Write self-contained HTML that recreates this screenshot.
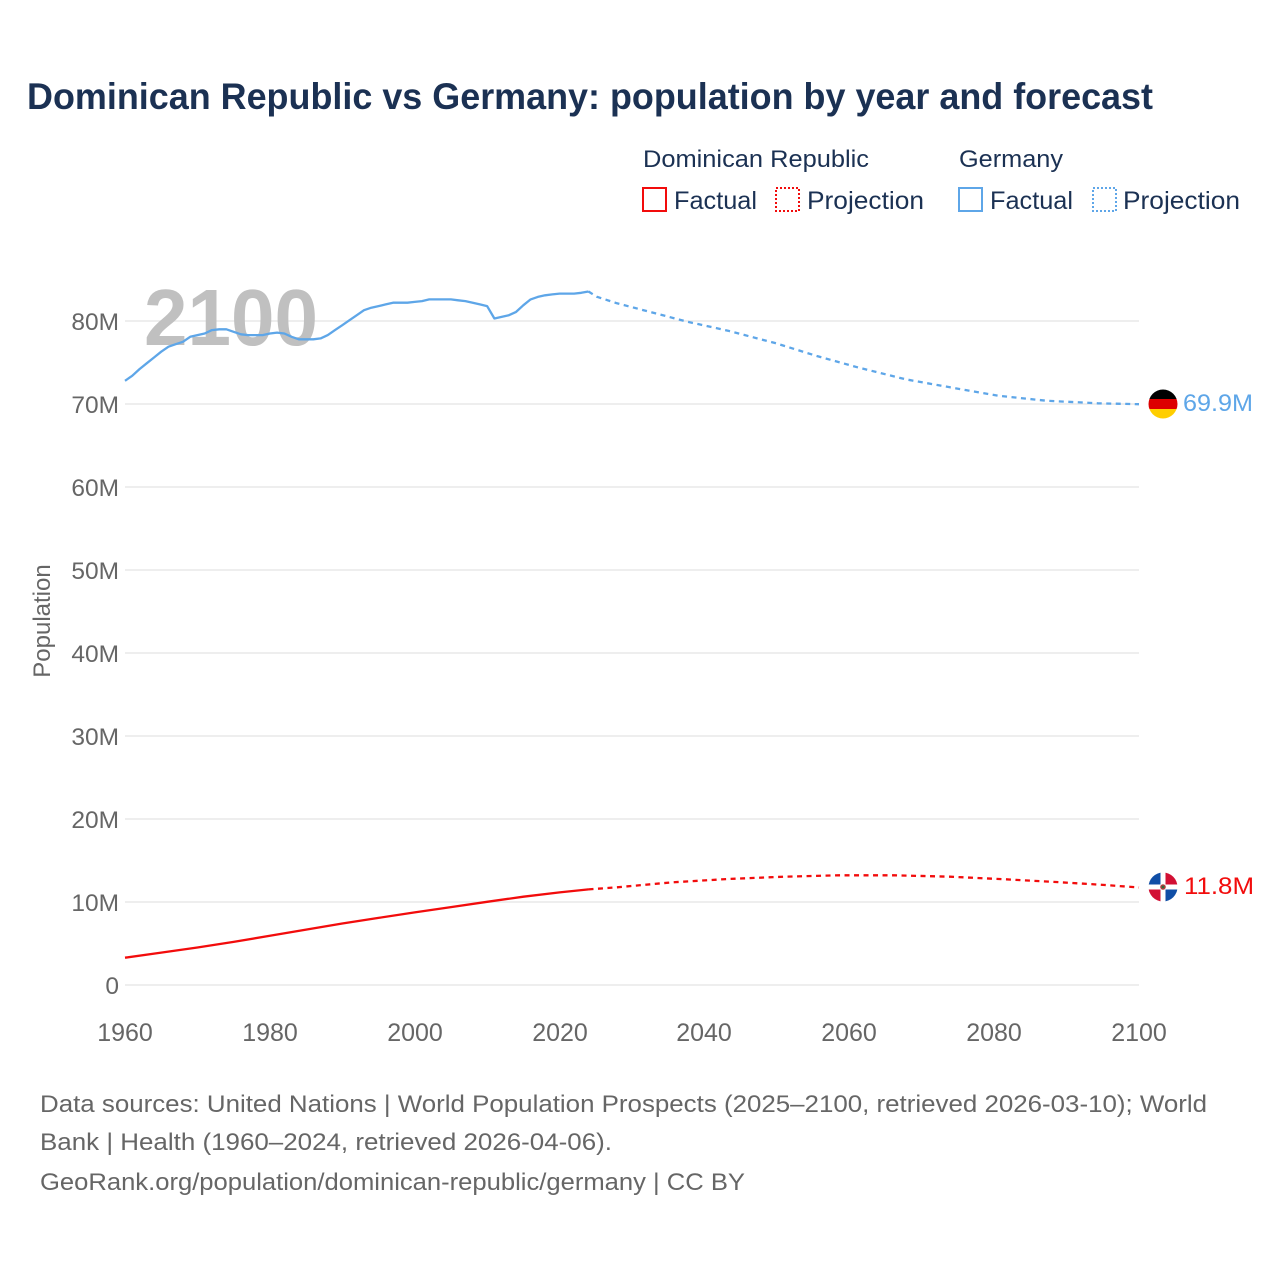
<!DOCTYPE html>
<html>
<head>
<meta charset="utf-8">
<style>
html,body{margin:0;padding:0;background:#fff;}
svg{display:block;}
text{font-family:"Liberation Sans",sans-serif;}
</style>
</head>
<body>
<svg width="1280" height="1280" viewBox="0 0 1280 1280" xmlns="http://www.w3.org/2000/svg">
<rect width="1280" height="1280" fill="#fff"/>
<!-- Title -->
<text x="27" y="109" font-size="37" font-weight="bold" fill="#1b3153" textLength="1126" lengthAdjust="spacingAndGlyphs">Dominican Republic vs Germany: population by year and forecast</text>

<!-- Legend -->
<text x="643" y="167" font-size="24" fill="#1b3153" textLength="226" lengthAdjust="spacingAndGlyphs">Dominican Republic</text>
<text x="959" y="167" font-size="24" fill="#1b3153" textLength="104" lengthAdjust="spacingAndGlyphs">Germany</text>
<rect x="643" y="188" width="23" height="23" fill="none" stroke="#f20c0c" stroke-width="2"/>
<text x="674" y="209" font-size="25" fill="#1b3153" textLength="83" lengthAdjust="spacingAndGlyphs">Factual</text>
<rect x="776" y="188" width="23" height="23" fill="none" stroke="#f20c0c" stroke-width="2" stroke-dasharray="2,2"/>
<text x="807" y="209" font-size="25" fill="#1b3153" textLength="117" lengthAdjust="spacingAndGlyphs">Projection</text>
<rect x="959" y="188" width="23" height="23" fill="none" stroke="#5ea6e8" stroke-width="2"/>
<text x="990" y="209" font-size="25" fill="#1b3153" textLength="83" lengthAdjust="spacingAndGlyphs">Factual</text>
<rect x="1093" y="188" width="23" height="23" fill="none" stroke="#5ea6e8" stroke-width="2" stroke-dasharray="2,2"/>
<text x="1123" y="209" font-size="25" fill="#1b3153" textLength="117" lengthAdjust="spacingAndGlyphs">Projection</text>

<!-- Gridlines -->
<g stroke="#e8e8e8" stroke-width="1.5">
<line x1="125" y1="985" x2="1139" y2="985"/>
<line x1="125" y1="902" x2="1139" y2="902"/>
<line x1="125" y1="819" x2="1139" y2="819"/>
<line x1="125" y1="736" x2="1139" y2="736"/>
<line x1="125" y1="653" x2="1139" y2="653"/>
<line x1="125" y1="570" x2="1139" y2="570"/>
<line x1="125" y1="487" x2="1139" y2="487"/>
<line x1="125" y1="404" x2="1139" y2="404"/>
<line x1="125" y1="321" x2="1139" y2="321"/>
</g>

<!-- Y tick labels -->
<g font-size="24.5" fill="#666" text-anchor="end">
<text x="119" y="994">0</text>
<text x="119" y="911">10M</text>
<text x="119" y="828">20M</text>
<text x="119" y="745">30M</text>
<text x="119" y="662">40M</text>
<text x="119" y="579">50M</text>
<text x="119" y="496">60M</text>
<text x="119" y="413">70M</text>
<text x="119" y="330">80M</text>
</g>
<text transform="translate(50,621) rotate(-90)" font-size="24" fill="#666" text-anchor="middle">Population</text>

<!-- X tick labels -->
<g font-size="25" fill="#666" text-anchor="middle">
<text x="125" y="1041">1960</text>
<text x="270" y="1041">1980</text>
<text x="415" y="1041">2000</text>
<text x="560" y="1041">2020</text>
<text x="704" y="1041">2040</text>
<text x="849" y="1041">2060</text>
<text x="994" y="1041">2080</text>
<text x="1139" y="1041">2100</text>
</g>

<!-- Watermark year -->
<text x="144" y="345" font-size="80" font-weight="bold" fill="#bdbdbd" fill-opacity="0.95" textLength="174" lengthAdjust="spacingAndGlyphs">2100</text>

<!-- Germany factual -->
<polyline fill="none" stroke="#5ea6e8" stroke-width="2.3" stroke-linejoin="round" points="125,380.8 132.2,375.8 139.5,369.1 146.7,363.3 154,357.5 161.2,351.7 168.5,346.7 175.7,344.2 182.9,341.8 190.2,336.8 197.4,335.1 204.7,333.5 211.9,330.1 219.2,329.3 226.4,329.3 233.6,331.8 240.9,334.3 248.1,335.1 255.4,335.1 262.6,335.1 269.9,333.5 277.1,332.6 284.3,333.5 291.6,336.8 298.8,339.3 306.1,339.3 313.3,339.3 320.6,338.4 327.8,335.1 335,330.1 342.3,325.2 349.5,320.2 356.8,315.2 364,310.2 371.3,307.7 378.5,306.1 385.7,304.4 393,302.7 400.2,302.7 407.5,302.7 414.7,301.9 422,301.1 429.2,299.4 436.4,299.4 443.7,299.4 450.9,299.4 458.2,300.3 465.4,301.1 472.7,302.7 479.9,304.4 487.1,306.1 494.4,318.5 501.6,316.9 508.9,315.2 516.1,311.9 523.4,305.2 530.6,299.4 537.8,296.9 545.1,295.3 552.3,294.4 559.6,293.6 566.8,293.6 574.1,293.6 581.3,292.8 588.5,291.5"/>
<!-- Germany projection -->
<polyline fill="none" stroke="#5ea6e8" stroke-width="2.3" stroke-dasharray="5,4.5" stroke-linejoin="round" points="588.5,291.5 596.6,296.7 617,303.3 646.6,311 687.3,321.7 728,330.7 776,343.3 816.8,356 857.5,367.3 905.6,379.3 950,387.3 998,395.7 1046,400.7 1098,403.3 1139,404.2"/>

<!-- Dominican Republic factual -->
<polyline fill="none" stroke="#f20c0c" stroke-width="2.3" stroke-linejoin="round" points="125,957.7 161.2,952.6 197.4,947.5 233.6,941.9 269.9,935.8 306.1,929.6 342.3,923.5 378.5,917.9 414.7,912.4 450.9,907.1 487.1,901.8 523.4,896.7 559.6,892.4 588.5,889.4"/>
<!-- Dominican Republic projection -->
<polyline fill="none" stroke="#f20c0c" stroke-width="2.3" stroke-dasharray="5,4.5" stroke-linejoin="round" points="588.5,889.4 617,887.3 672.5,882.3 728,879 783.5,876.7 839,875.3 894.5,875.3 950,876.7 1005.5,879.3 1061,882.3 1105,885 1139,887.5"/>

<!-- Flags -->
<defs>
<clipPath id="cde"><circle cx="1163" cy="404" r="14.5"/></clipPath>
<clipPath id="cdo"><circle cx="1163" cy="887" r="14.5"/></clipPath>
</defs>
<g clip-path="url(#cde)">
<rect x="1148" y="389" width="30" height="10" fill="#000"/>
<rect x="1148" y="399" width="30" height="10" fill="#dd0000"/>
<rect x="1148" y="409" width="30" height="10" fill="#ffce00"/>
</g>
<text x="1183" y="411" font-size="24" fill="#5ea6e8" textLength="70" lengthAdjust="spacingAndGlyphs">69.9M</text>

<g clip-path="url(#cdo)">
<rect x="1148" y="872" width="30" height="30" fill="#fff"/>
<rect x="1148" y="872" width="12.5" height="12.5" fill="#0f4ea6"/>
<rect x="1165.5" y="872" width="12.5" height="12.5" fill="#d21034"/>
<rect x="1148" y="889.5" width="12.5" height="12.5" fill="#d21034"/>
<rect x="1165.5" y="889.5" width="12.5" height="12.5" fill="#0f4ea6"/>
<circle cx="1163" cy="887" r="2.8" fill="#b04040"/>
<circle cx="1163" cy="887" r="1.4" fill="#2f6a3a"/>
</g>
<text x="1184" y="894" font-size="24" fill="#f20c0c" textLength="70" lengthAdjust="spacingAndGlyphs">11.8M</text>

<!-- Footer -->
<g font-size="24" fill="#666">
<text x="40" y="1112" textLength="1167" lengthAdjust="spacingAndGlyphs">Data sources: United Nations | World Population Prospects (2025–2100, retrieved 2026-03-10); World</text>
<text x="40" y="1150" textLength="572" lengthAdjust="spacingAndGlyphs">Bank | Health (1960–2024, retrieved 2026-04-06).</text>
<text x="40" y="1190" textLength="705" lengthAdjust="spacingAndGlyphs">GeoRank.org/population/dominican-republic/germany | CC BY</text>
</g>
</svg>
</body>
</html>
